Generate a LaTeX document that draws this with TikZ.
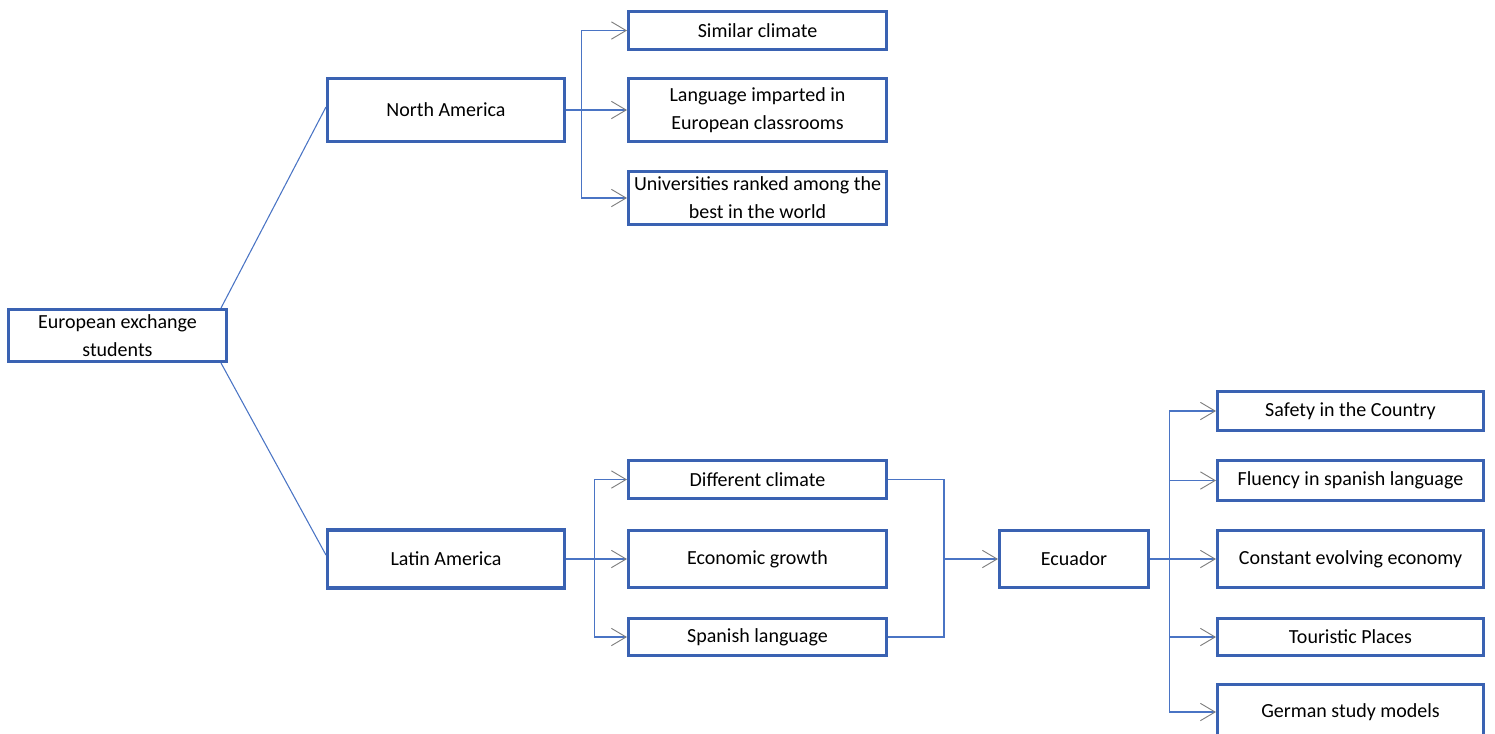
\documentclass[tikz,border=0pt]{standalone}
\usepackage{fontspec}
\setmainfont{Carlito}
\usetikzlibrary{arrows.meta,calc}
\definecolor{boxblue}{HTML}{3A62B2}
\definecolor{lineblue}{HTML}{4A74C4}
\definecolor{tipgray}{HTML}{7F7F7F}
\begin{document}
\begin{tikzpicture}[x=0.75pt,y=-0.75pt,
  box/.style 2 args={draw=boxblue,line width=2.3pt,fill=white,inner sep=0pt,align=center,
    minimum width=#1*0.75pt,minimum height=#2*0.75pt,
    font=\fontsize{15}{21}\selectfont},
  link/.style={draw=lineblue,line width=0.8pt},
  conn/.style={link,-{Straight Barb[length=11pt,width=13pt,color=tipgray,line width=0.7pt]}}]
\useasboundingbox (0,0) rectangle (1495,733);
\clip (0,0) rectangle (1495,733);
% nodes
\node[box={218}{52}] (eu) at (117.5,335.5) {European exchange\\students};
\node[box={237}{63}] (na) at (446,110) {North America};
\node[box={237}{58}] (la) at (446,559) {Latin America};
\node[box={258}{38}] (sc) at (757.5,30.5) {Similar climate};
\node[box={258}{63}] (lang) at (757.5,110) {Language imparted in\\European classrooms};
\node[box={258}{53}] (univ) at (757.5,198) {Universities ranked among the\\best in the world};
\node[box={258}{38}] (dc) at (757.5,479.5) {Different climate};
\node[box={258}{57}] (eg) at (757.5,559) {Economic growth};
\node[box={258}{37}] (sl) at (757.5,637) {Spanish language};
\node[box={149}{57}] (ec) at (1074,559) {Ecuador};
\node[box={266}{39}] (sa) at (1350.5,411) {Safety in the Country};
\node[box={266}{40}] (fl) at (1350.5,480.5) {Fluency in spanish language};
\node[box={266}{57}] (co) at (1350.5,559) {Constant evolving economy};
\node[box={266}{37}] (to) at (1350.5,637) {Touristic Places};
\node[box={266}{55}] (ge) at (1350.5,712) {German study models};
% root links
\draw[link] ($(eu.north east)+(-7,0)$) -- ($(na.west)+(0,-3)$);
\draw[link] ($(eu.south east)+(-7,0)$) -- ($(la.west)+(0,-4)$);
% North America branches
\draw[conn] (na.east) -- ++(15,0) |- (sc.west);
\draw[conn] (na.east) -- (lang.west);
\draw[conn] (na.east) -- ++(15,0) |- (univ.west);
% Latin America branches
\draw[conn] (la.east) -- ++(28,0) |- (dc.west);
\draw[conn] (la.east) -- (eg.west);
\draw[conn] (la.east) -- ++(28,0) |- (sl.west);
% to Ecuador
\coordinate (j) at (944,559);
\draw[link] (dc.east) -| (j);
\draw[link] (sl.east) -| (j);
\draw[conn] (j) -- (ec.west);
% Ecuador branches
\draw[conn] (ec.east) -- ++(19,0) |- (sa.west);
\draw[conn] (ec.east) -- ++(19,0) |- (fl.west);
\draw[conn] (ec.east) -- (co.west);
\draw[conn] (ec.east) -- ++(19,0) |- (to.west);
\draw[conn] (ec.east) -- ++(19,0) |- (ge.west);
\end{tikzpicture}
\end{document}
